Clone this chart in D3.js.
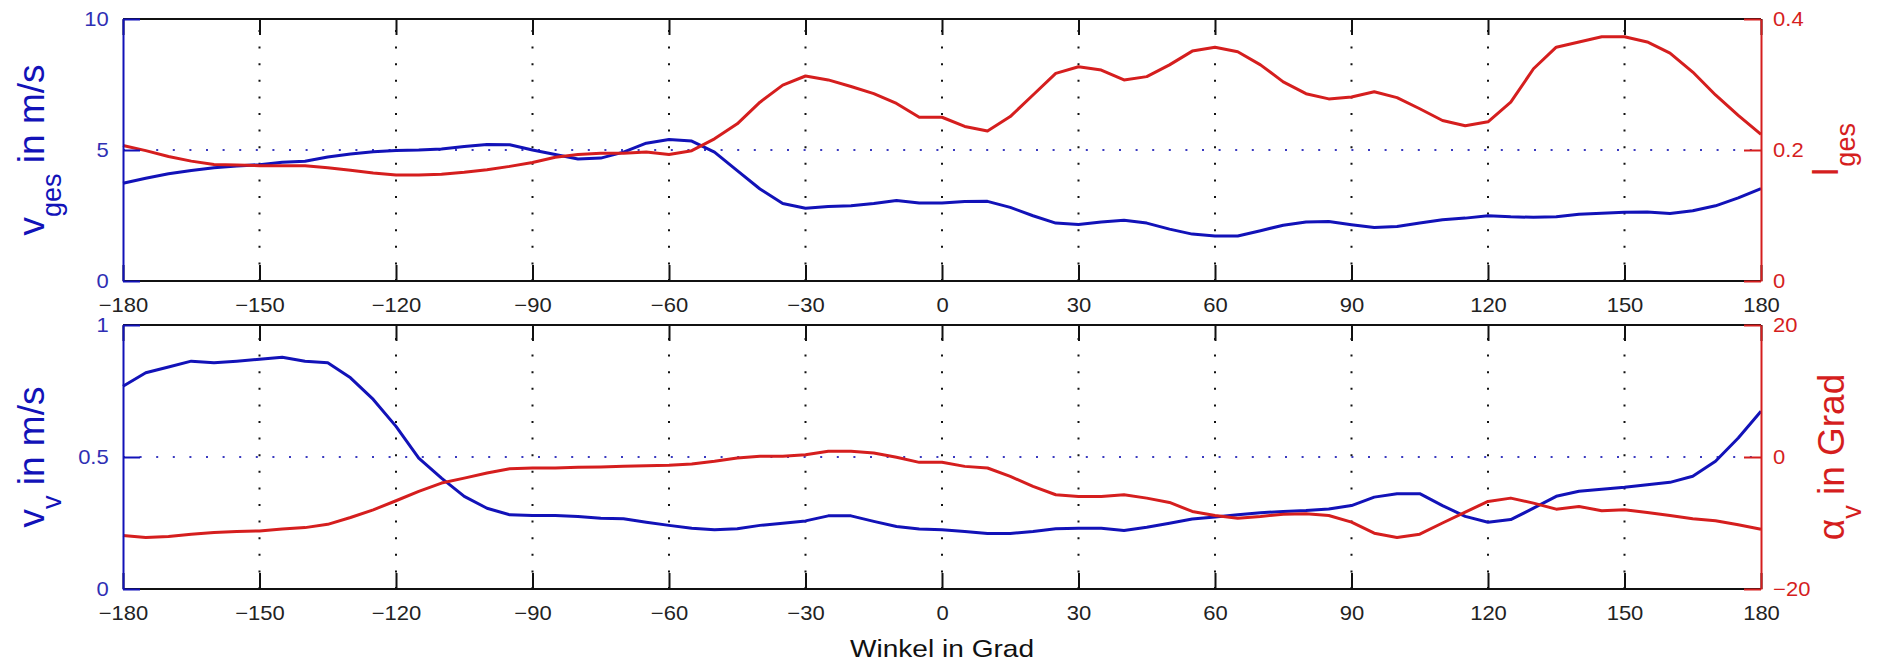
<!DOCTYPE html>
<html>
<head>
<meta charset="utf-8">
<script src="https://cdn.jsdelivr.net/npm/d3@7"></script>
<style>
	body { margin: 0; background: #fff; }
	svg { display: block; font-family: "Liberation Sans", Arial, sans-serif; }
</style>
</head>
<body>
<svg id="chart" width="1877" height="665"></svg>
<script>
// Winkel in Grad
var angles = [-180, -175, -170, -165, -160, -155, -150, -145, -140, -135, -130, -125, -120, -115, -110, -105, -100, -95, -90, -85, -80, -75, -70, -65, -60, -55, -50, -45, -40, -35, -30, -25, -20, -15, -10, -5,
	0, 5, 10, 15, 20, 25, 30, 35, 40, 45, 50, 55, 60, 65, 70, 75, 80, 85, 90, 95, 100, 105, 110, 115, 120, 125, 130, 135, 140, 145, 150, 155, 160, 165, 170, 175, 180];
var xTicks = [-180, -150, -120, -90, -60, -30, 0, 30, 60, 90, 120, 150, 180];

// oben: v_ges (links) und I_ges (rechts)
var vGes = [3.73, 3.92, 4.09, 4.22, 4.32, 4.39, 4.44, 4.53, 4.57, 4.73, 4.85, 4.93, 4.98, 5.00, 5.04, 5.13, 5.21, 5.20, 5.00, 4.83, 4.66, 4.69, 4.92, 5.26, 5.40, 5.34, 4.92, 4.21, 3.51, 2.96, 2.78, 2.84, 2.87, 2.96, 3.07, 2.98,
	2.98, 3.03, 3.04, 2.81, 2.49, 2.21, 2.16, 2.25, 2.32, 2.21, 1.98, 1.79, 1.72, 1.72, 1.92, 2.13, 2.25, 2.27, 2.15, 2.04, 2.08, 2.21, 2.34, 2.40, 2.49, 2.45, 2.43, 2.45, 2.55, 2.59, 2.62, 2.63, 2.58, 2.68, 2.87, 3.17, 3.53];
var iGes = [0.207, 0.199, 0.190, 0.183, 0.178, 0.177, 0.176, 0.176, 0.176, 0.173, 0.169, 0.165, 0.162, 0.162, 0.163, 0.166, 0.170, 0.175, 0.181, 0.189, 0.193, 0.195, 0.195, 0.197, 0.193, 0.199, 0.217, 0.240, 0.273, 0.299, 0.313, 0.307, 0.297, 0.286, 0.271, 0.250,
	0.250, 0.236, 0.229, 0.251, 0.284, 0.317, 0.327, 0.322, 0.307, 0.312, 0.330, 0.351, 0.357, 0.350, 0.330, 0.304, 0.286, 0.278, 0.281, 0.289, 0.280, 0.263, 0.245, 0.237, 0.243, 0.273, 0.324, 0.357, 0.365, 0.373, 0.373, 0.365, 0.348, 0.319, 0.284, 0.253, 0.224];

// unten: v_v (links) und alpha_v (rechts)
var vV = [0.768, 0.819, 0.841, 0.863, 0.857, 0.863, 0.870, 0.878, 0.863, 0.857, 0.800, 0.718, 0.616, 0.496, 0.420, 0.351, 0.306, 0.281, 0.278, 0.278, 0.275, 0.268, 0.266, 0.253, 0.241, 0.230, 0.224, 0.228, 0.241, 0.249, 0.258, 0.277, 0.277, 0.256, 0.237, 0.227,
	0.224, 0.218, 0.210, 0.210, 0.218, 0.228, 0.230, 0.230, 0.222, 0.234, 0.249, 0.265, 0.273, 0.281, 0.289, 0.294, 0.297, 0.303, 0.316, 0.348, 0.361, 0.361, 0.316, 0.275, 0.253, 0.263, 0.306, 0.351, 0.370, 0.378, 0.385, 0.395, 0.404, 0.427, 0.484, 0.572, 0.673];
var alphaV = [-11.9, -12.2, -12.05, -11.7, -11.44, -11.3, -11.2, -10.9, -10.7, -10.2, -9.16, -8.0, -6.63, -5.2, -3.95, -3.2, -2.43, -1.77, -1.67, -1.67, -1.57, -1.5, -1.42, -1.32, -1.25, -1.06, -0.66, -0.15, 0.1, 0.1, 0.35, 0.86, 0.86, 0.61, -0.05, -0.81,
	-0.81, -1.42, -1.67, -2.94, -4.46, -5.72, -5.97, -5.97, -5.72, -6.23, -6.89, -8.25, -8.86, -9.27, -9.01, -8.66, -8.6, -8.86, -9.87, -11.54, -12.2, -11.7, -10.0, -8.35, -6.73, -6.23, -6.99, -7.9, -7.49, -8.15, -8.0, -8.41, -8.86, -9.37, -9.67, -10.28, -10.94];

var blue = "#1212b8",
	blueText = "#2f2fb4",
	red = "#d51e1e",
	black = "#111";

var svg = d3.select("#chart");
var x = d3.scaleLinear().domain([-180, 180]).range([123, 1761]);
var fmt = d3.format("~g");

function panel(cfg) {
	var g = svg.append("g");
	var yL = d3.scaleLinear().domain(cfg.leftDomain).range([cfg.bottom, cfg.top]);
	var yR = d3.scaleLinear().domain(cfg.rightDomain).range([cfg.bottom, cfg.top]);

	// grid (dotted)
	g.append("g").selectAll("line").data(xTicks.slice(1, -1)).enter().append("line")
		.attr("x1", d => x(d)).attr("x2", d => x(d))
		.attr("y1", cfg.bottom).attr("y2", cfg.top)
		.attr("stroke", black).attr("stroke-width", 2).attr("stroke-dasharray", "2,14.6");
	g.append("g").selectAll("line").data(cfg.leftTicks.slice(1, -1)).enter().append("line")
		.attr("x1", x.range()[0]).attr("x2", x.range()[1])
		.attr("y1", d => yL(d)).attr("y2", d => yL(d))
		.attr("stroke", "#3a3ac0").attr("stroke-width", 2).attr("stroke-dasharray", "2,14.6");

	// data
	var lineL = d3.line().x((d, i) => x(angles[i])).y(d => yL(d));
	var lineR = d3.line().x((d, i) => x(angles[i])).y(d => yR(d));
	g.append("path").datum(cfg.leftData).attr("d", lineL)
		.attr("fill", "none").attr("stroke", blue).attr("stroke-width", 3).attr("stroke-linejoin", "round");
	g.append("path").datum(cfg.rightData).attr("d", lineR)
		.attr("fill", "none").attr("stroke", red).attr("stroke-width", 3).attr("stroke-linejoin", "round");

	// x axes, bottom with labels, top ticks only
	var xb = g.append("g").attr("transform", "translate(0," + cfg.bottom + ")")
		.call(d3.axisBottom(x).tickValues(xTicks).tickSize(-16).tickSizeOuter(0));
	xb.select(".domain").remove();
	xb.selectAll("line").attr("stroke", black).attr("stroke-width", 2);
	xb.selectAll("text").attr("y", 31).attr("dy", null)
		.attr("font-size", 20).attr("fill", "#222").attr("font-family", null)
		.attr("transform", "scale(1.1,1)");

	var xt = g.append("g").attr("transform", "translate(0," + cfg.top + ")")
		.call(d3.axisTop(x).tickValues(xTicks).tickSize(-16).tickSizeOuter(0).tickFormat(""));
	xt.select(".domain").remove();
	xt.selectAll("line").attr("stroke", black).attr("stroke-width", 2);

	// box top/bottom
	g.append("line").attr("x1", x.range()[0]).attr("x2", x.range()[1])
		.attr("y1", cfg.top).attr("y2", cfg.top).attr("stroke", black).attr("stroke-width", 2);
	g.append("line").attr("x1", x.range()[0]).attr("x2", x.range()[1])
		.attr("y1", cfg.bottom).attr("y2", cfg.bottom).attr("stroke", black).attr("stroke-width", 2);

	// left axis
	var al = g.append("g").attr("transform", "translate(" + x.range()[0] + ",0)")
		.call(d3.axisLeft(yL).tickValues(cfg.leftTicks).tickFormat(fmt).tickSize(-17).tickSizeOuter(0).tickPadding(13));
	al.select(".domain").attr("stroke", blue).attr("stroke-width", 2);
	al.selectAll("line").attr("stroke", blue).attr("stroke-width", 2);
	al.selectAll("text").attr("font-size", 20).attr("fill", blueText).attr("font-family", null)
		.attr("transform", "scale(1.1,1)");

	// right axis
	var ar = g.append("g").attr("transform", "translate(" + x.range()[1] + ",0)")
		.call(d3.axisRight(yR).tickValues(cfg.rightTicks).tickFormat(fmt).tickSize(-17).tickSizeOuter(0).tickPadding(11));
	ar.select(".domain").attr("stroke", red).attr("stroke-width", 2);
	ar.selectAll("line").attr("stroke", red).attr("stroke-width", 2);
	ar.selectAll("text").attr("font-size", 20).attr("fill", red).attr("font-family", null)
		.attr("transform", "scale(1.1,1)");

	yLabel(cfg.leftLabel, 44, (cfg.top + cfg.bottom) / 2, blue);
	yLabel(cfg.rightLabel, cfg.rightLabelX, (cfg.top + cfg.bottom) / 2, red);
}

function yLabel(parts, px, py, color) {
	var t = svg.append("text")
		.attr("transform", "translate(" + px + "," + py + ") rotate(-90)")
		.attr("text-anchor", "middle").attr("font-size", 37).attr("fill", color)
		.style("white-space", "pre");
	t.append("tspan").text(parts[0]);
	t.append("tspan").attr("font-size", 27).attr("dy", 17).text(parts[1]);
	if (parts[2]) t.append("tspan").attr("dy", -17).text(parts[2]);
}

panel({
	top: 19, bottom: 281,
	leftDomain: [0, 10], leftTicks: [0, 5, 10], leftData: vGes,
	rightDomain: [0, 0.4], rightTicks: [0, 0.2, 0.4], rightData: iGes,
	leftLabel: ["v", "ges", " in m/s"],
	rightLabel: ["I", "ges"], rightLabelX: 1838
});

panel({
	top: 325, bottom: 589,
	leftDomain: [0, 1], leftTicks: [0, 0.5, 1], leftData: vV,
	rightDomain: [-20, 20], rightTicks: [-20, 0, 20], rightData: alphaV,
	leftLabel: ["v", "v", " in m/s"],
	rightLabel: ["\u03b1", "v", " in Grad"], rightLabelX: 1844
});

svg.append("text")
	.attr("transform", "translate(942,657) scale(1.17,1)")
	.attr("text-anchor", "middle").attr("font-size", 24).attr("fill", "#111")
	.text("Winkel in Grad");
</script>
</body>
</html>
